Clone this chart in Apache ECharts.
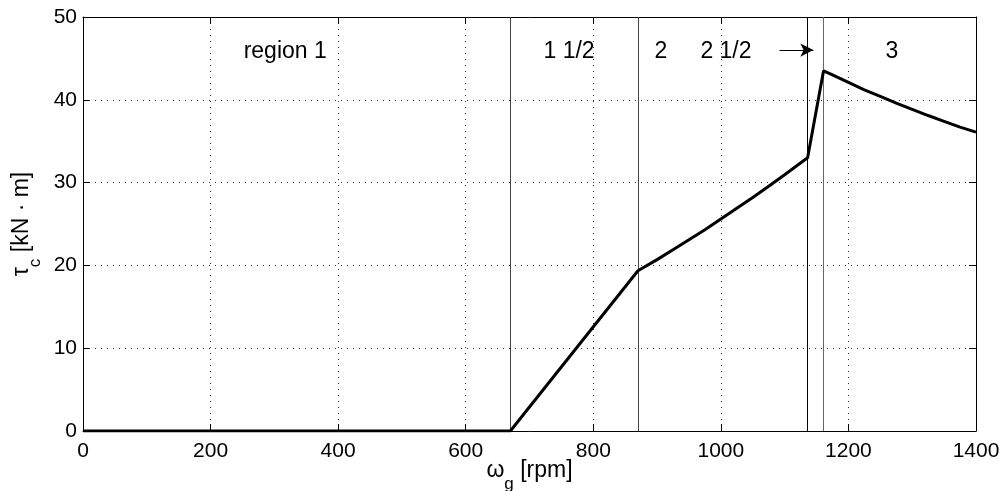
<!DOCTYPE html>
<html>
<head>
<meta charset="utf-8">
<script src="https://cdn.jsdelivr.net/npm/echarts@6/dist/echarts.min.js"></script>
<style>
html,body{margin:0;padding:0;background:#fff;}
#main{width:1003px;height:491px;}
</style>
</head>
<body>
<div id="main"></div>
<script>
// Data
const rpm    = [0, 670, 870, 900, 925, 950, 975, 1000, 1025, 1050, 1075, 1100, 1120, 1136,
                1161, 1175, 1200, 1225, 1250, 1275, 1300, 1325, 1350, 1375, 1400];
const torque = [0, 0, 19.35, 20.7, 21.9, 23.1, 24.3, 25.6, 26.9, 28.2, 29.55, 30.95, 32.1, 33.0,
                43.5, 43.0, 42.1, 41.2, 40.4, 39.6, 38.85, 38.1, 37.4, 36.7, 36.1];
const boundaries = [670, 870, 1136, 1161];
const boundaryColors = ['#444', '#444', '#000', '#666'];
const regionLabels = ['region 1', '1 1/2', '2', '2 1/2', '3'];
const regionLabelX = [317, 762, 906, 1008, 1268];
const regionLabelY = [45.8, 45.8, 45.8, 45.8, 45.8];
const arrowFrom = [1092, 46];
const arrowTo = [1145, 46];
const xTicks = [0, 200, 400, 600, 800, 1000, 1200, 1400];
const yTicks = [0, 10, 20, 30, 40, 50];

const FONT = 'Liberation Sans';
const chart = echarts.init(document.getElementById('main'));

const axisCommon = {
  axisLine: {show: true, onZero: false, lineStyle: {color: '#000', width: 1}},
  axisTick: {show: true, inside: true, length: 7, lineStyle: {color: '#000', width: 1}},
  splitLine: {show: false}
};
const richName = {
  a: {fontFamily: FONT, fontSize: 23, color: '#000', lineHeight: 44, verticalAlign: 'middle'},
  s: {fontFamily: FONT, fontSize: 17, color: '#000', lineHeight: 44, verticalAlign: 'bottom'}
};

const option = {
  backgroundColor: '#fff',
  animation: false,
  grid: {left: 83, right: 27, top: 17, bottom: 60, containLabel: false, outerBoundsMode: 'none'},
  xAxis: [
    Object.assign({}, axisCommon, {
      type: 'value', min: 0, max: 1400, interval: 200, position: 'bottom',
      name: '{a|ω}{s|g}{a| [rpm]}', nameLocation: 'middle', nameGap: 18, nameMoveOverlap: false,
      nameTextStyle: {rich: richName},
      axisLabel: {fontFamily: FONT, fontSize: 21, color: '#000', margin: 10,
        formatter: v => xTicks.includes(v) ? String(v) : ''},
      splitLine: {show: true, lineStyle: {color: '#333', width: 1, type: [1, 5]}}
    }),
    Object.assign({}, axisCommon, {
      type: 'value', min: 0, max: 1400, interval: 200, position: 'top',
      axisLabel: {show: false}
    })
  ],
  yAxis: [
    Object.assign({}, axisCommon, {
      type: 'value', min: 0, max: 50, interval: 10, position: 'left',
      name: '{a|τ}{s|c}{a| [kN · m]}', nameLocation: 'middle', nameGap: 39, nameRotate: 90,
      nameMoveOverlap: false,
      nameTextStyle: {rich: richName},
      axisLabel: {fontFamily: FONT, fontSize: 21, color: '#000', margin: 6,
        formatter: v => yTicks.includes(v) ? String(v) : ''},
      splitLine: {show: true, lineStyle: {color: '#333', width: 1, type: [1, 5]}}
    }),
    Object.assign({}, axisCommon, {
      type: 'value', min: 0, max: 50, interval: 10, position: 'right',
      axisLabel: {show: false}
    })
  ],
  series: [
    {
      type: 'line',
      data: rpm.map((x, i) => [x, torque[i]]),
      showSymbol: false,
      symbol: 'none',
      lineStyle: {color: '#000', width: 3},
      z: 5,
      markLine: {
        silent: true,
        symbol: ['none', 'none'],
        label: {show: false},
        data: boundaries.map((b, i) => ({xAxis: b, lineStyle: {color: boundaryColors[i], width: 1, type: 'solid'}}))
      }
    },
    {
      type: 'line',
      data: [],
      markLine: {
        silent: true,
        symbol: ['none', 'arrow'],
        symbolSize: [10, 13],
        label: {show: false},
        lineStyle: {color: '#000', width: 1, type: 'solid'},
        data: [[{coord: arrowFrom}, {coord: arrowTo}]]
      }
    },
    {
      type: 'scatter',
      symbolSize: 0,
      silent: true,
      itemStyle: {color: '#000'},
      data: regionLabels.map((t, i) => ({value: [regionLabelX[i], regionLabelY[i]], name: t})),
      label: {
        show: true, position: 'inside', formatter: p => p.name,
        fontFamily: FONT, fontSize: 23, color: '#000', textBorderWidth: 0, opacity: 1
      }
    }
  ]
};
chart.setOption(option);
</script>
</body>
</html>
